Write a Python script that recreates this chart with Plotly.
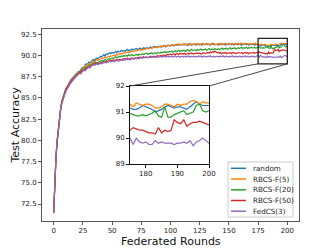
import plotly.graph_objects as go

# ---------------- data ----------------
random_acc = [
    71.5, 75.4, 78.2, 80.0, 81.6, 82.9, 83.9, 84.6, 85.1, 85.5,
    85.9, 86.2, 86.5, 86.6, 86.9, 87.2, 87.3, 87.5, 87.6, 87.8,
    87.9, 88.1, 88.0, 88.3, 88.5, 88.6, 88.5, 88.9, 89.0, 88.9,
    89.2, 89.1, 89.3, 89.4, 89.5, 89.4, 89.6, 89.7, 89.6, 89.8,
    89.9, 89.8, 90.0, 90.1, 89.9, 90.15, 90.1, 90.2, 90.3, 90.2,
    90.35, 90.25, 90.4, 90.45, 90.3, 90.5, 90.4, 90.45, 90.6, 90.5,
    90.55, 90.45, 90.6, 90.7, 90.55, 90.65, 90.6, 90.75, 90.65, 90.7,
    90.7, 90.8, 90.65, 90.75, 90.85, 90.7, 90.8, 90.9, 90.8, 90.85,
    90.9, 90.8, 90.95, 91.0, 90.85, 90.95, 91.05, 91.0, 90.9, 91.05,
    91.0, 91.1, 90.95, 91.05, 91.15, 91.1, 91.0, 91.15, 91.2, 91.1,
    91.2, 91.15, 91.25, 91.1, 91.2, 91.3, 91.15, 91.25, 91.2, 91.3,
    91.2, 91.25, 91.35, 91.2, 91.3, 91.15, 91.25, 91.35, 91.2, 91.3,
    91.25, 91.35, 91.2, 91.3, 91.4, 91.25, 91.3, 91.2, 91.35, 91.25,
    91.3, 91.4, 91.25, 91.3, 91.2, 91.35, 91.3, 91.4, 91.25, 91.3,
    91.35, 91.2, 91.3, 91.4, 91.25, 91.3, 91.35, 91.2, 91.3, 91.25,
    91.4, 91.3, 91.25, 91.35, 91.2, 91.3, 91.4, 91.3, 91.25, 91.35,
    91.3, 91.2, 91.35, 91.3, 91.4, 91.25, 91.3, 91.2, 91.35, 91.3,
    91.25, 91.35, 91.2, 91.3, 91.25,
    91.15, 91.1, 91.1, 91.15, 91.25, 91.2, 91.15, 91.1, 91.0, 91.05,
    91.1, 91.2, 91.25, 91.2, 91.15, 91.2, 91.2, 91.15, 91.1, 91.2,
    91.3, 91.4, 91.3, 91.25, 91.25, 91.25,
]

rbcs5_acc = [
    71.5, 75.3, 78.1, 80.0, 81.5, 82.8, 83.8, 84.6, 85.1, 85.5,
    85.8, 86.2, 86.4, 86.7, 86.9, 87.1, 87.3, 87.4, 87.6, 87.7,
    87.9, 88.0, 88.1, 88.2, 88.4, 88.5, 88.6, 88.8, 88.7, 88.9,
    89.0, 88.9, 89.1, 89.2, 89.3, 89.2, 89.4, 89.5, 89.4, 89.5,
    89.6, 89.7, 89.6, 89.75, 89.8, 89.7, 89.85, 89.9, 89.8, 89.95,
    89.9, 90.0, 90.05, 89.95, 90.1, 90.05, 90.2, 90.15, 90.25, 90.2,
    90.3, 90.25, 90.35, 90.4, 90.3, 90.45, 90.4, 90.5, 90.45, 90.55,
    90.55, 90.5, 90.6, 90.65, 90.6, 90.7, 90.65, 90.75, 90.7, 90.8,
    90.8, 90.75, 90.85, 90.9, 90.8, 90.95, 90.9, 90.95, 91.0, 90.9,
    91.05, 91.0, 91.1, 91.05, 91.0, 91.15, 91.1, 91.05, 91.2, 91.15,
    91.1, 91.25, 91.2, 91.15, 91.3, 91.2, 91.25, 91.35, 91.2, 91.3,
    91.25, 91.35, 91.3, 91.2, 91.35, 91.3, 91.4, 91.25, 91.3, 91.35,
    91.3, 91.25, 91.4, 91.3, 91.35, 91.2, 91.35, 91.4, 91.3, 91.25,
    91.35, 91.3, 91.4, 91.25, 91.35, 91.3, 91.45, 91.3, 91.35, 91.25,
    91.3, 91.4, 91.35, 91.25, 91.4, 91.3, 91.35, 91.45, 91.3, 91.35,
    91.3, 91.25, 91.4, 91.35, 91.3, 91.4, 91.25, 91.35, 91.4, 91.3,
    91.35, 91.45, 91.3, 91.35, 91.25, 91.4, 91.35, 91.3, 91.4, 91.35,
    91.3, 91.4, 91.35, 91.45, 91.3,
    91.3, 91.2, 91.35, 91.3, 91.25, 91.3, 91.3, 91.25, 91.15, 91.15,
    91.2, 91.3, 91.3, 91.25, 91.2, 91.3, 91.25, 91.3, 91.3, 91.4,
    91.45, 91.4, 91.3, 91.4, 91.35, 91.35,
]

rbcs20_acc = [
    71.5, 75.3, 78.1, 79.9, 81.5, 82.8, 83.7, 84.5, 85.0, 85.4,
    85.8, 86.1, 86.3, 86.6, 86.8, 87.0, 87.2, 87.3, 87.5, 87.6,
    87.8, 87.9, 88.0, 88.1, 88.3, 88.2, 88.5, 88.6, 88.5, 88.7,
    88.8, 88.9, 88.8, 89.0, 89.1, 89.0, 89.2, 89.1, 89.2, 89.3,
    89.3, 89.4, 89.3, 89.45, 89.5, 89.4, 89.55, 89.6, 89.5, 89.65,
    89.7, 89.6, 89.75, 89.85, 89.7, 89.8, 89.9, 89.8, 89.95, 89.85,
    89.95, 89.9, 90.0, 89.9, 90.05, 89.95, 90.0, 90.1, 89.95, 90.05,
    90.05, 90.1, 90.0, 90.15, 90.05, 90.1, 90.2, 90.1, 90.15, 90.25,
    90.2, 90.1, 90.25, 90.2, 90.3, 90.15, 90.25, 90.3, 90.2, 90.35,
    90.3, 90.25, 90.4, 90.3, 90.35, 90.45, 90.3, 90.4, 90.35, 90.45,
    90.4, 90.5, 90.4, 90.45, 90.55, 90.4, 90.5, 90.6, 90.45, 90.55,
    90.5, 90.6, 90.55, 90.45, 90.6, 90.65, 90.5, 90.6, 90.7, 90.55,
    90.6, 90.65, 90.55, 90.7, 90.6, 90.65, 90.75, 90.6, 90.7, 90.65,
    90.75, 90.6, 90.7, 90.8, 90.65, 90.7, 90.75, 90.65, 90.8, 90.7,
    90.7, 90.8, 90.65, 90.75, 90.85, 90.7, 90.8, 90.75, 90.85, 90.7,
    90.8, 90.9, 90.75, 90.85, 90.8, 90.9, 90.75, 90.85, 90.9, 90.8,
    90.85, 90.95, 90.8, 90.9, 90.85, 90.95, 90.8, 90.9, 90.85, 90.95,
    90.9, 90.85, 90.95, 90.85, 90.9,
    90.95, 90.9, 90.85, 90.85, 90.9, 90.85, 90.9, 90.95, 91.05, 90.85,
    90.8, 91.2, 90.8, 90.8, 90.9, 90.95, 91.0, 91.05, 90.9, 90.95,
    91.0, 91.25, 91.3, 91.05, 91.0, 91.05,
]

rbcs50_acc = [
    71.4, 75.3, 78.1, 79.9, 81.5, 82.7, 83.7, 84.5, 85.0, 85.4,
    85.8, 86.1, 86.3, 86.6, 86.8, 87.0, 87.2, 87.3, 87.4, 87.6,
    87.7, 87.8, 88.0, 88.0, 88.2, 88.3, 88.2, 88.4, 88.5, 88.6,
    88.7, 88.6, 88.8, 88.9, 89.0, 88.9, 89.0, 89.1, 89.0, 89.1,
    89.1, 89.2, 89.1, 89.25, 89.2, 89.3, 89.25, 89.35, 89.3, 89.4,
    89.35, 89.45, 89.4, 89.45, 89.5, 89.4, 89.55, 89.5, 89.45, 89.55,
    89.55, 89.6, 89.5, 89.65, 89.6, 89.55, 89.65, 89.7, 89.6, 89.65,
    89.7, 89.65, 89.75, 89.7, 89.8, 89.7, 89.75, 89.85, 89.75, 89.8,
    89.8, 89.75, 89.85, 89.9, 89.8, 89.85, 89.9, 89.8, 89.9, 89.95,
    89.9, 89.95, 90.0, 89.9, 90.05, 90.0, 89.95, 90.1, 90.05, 90.1,
    90.15, 90.05, 90.1, 90.2, 90.1, 90.15, 90.2, 90.1, 90.25, 90.15,
    90.2, 90.15, 90.25, 90.1, 90.2, 90.25, 90.15, 90.2, 90.3, 90.2,
    90.15, 90.25, 90.2, 90.3, 90.2, 90.25, 90.15, 90.2, 90.3, 90.25,
    90.2, 90.3, 90.35, 90.25, 90.4, 90.3, 90.45, 90.35, 90.5, 90.4,
    90.3, 90.35, 90.25, 90.3, 90.2, 90.3, 90.25, 90.35, 90.2, 90.3,
    90.25, 90.3, 90.2, 90.35, 90.25, 90.3, 90.2, 90.25, 90.35, 90.3,
    90.25, 90.3, 90.2, 90.3, 90.35, 90.25, 90.3, 90.2, 90.3, 90.25,
    90.3, 90.35, 90.25, 90.3, 90.35,
    90.3, 90.4, 90.35, 90.3, 90.3, 90.25, 90.2, 90.2, 90.15, 90.4,
    90.2, 90.3, 90.25, 90.3, 90.7, 90.6, 90.55, 90.7, 90.45, 90.55,
    90.6, 90.6, 90.65, 90.6, 90.55, 90.5,
]

fedcs3_acc = [
    71.5, 75.2, 78.0, 79.8, 81.4, 82.6, 83.6, 84.3, 84.8, 85.2,
    85.6, 85.9, 86.2, 86.4, 86.6, 86.8, 87.0, 87.1, 87.3, 87.5,
    87.6, 87.7, 87.9, 87.8, 88.0, 88.1, 88.3, 88.2, 88.4, 88.5,
    88.6, 88.5, 88.7, 88.8, 88.9, 88.8, 88.9, 89.0, 88.9, 89.0,
    89.1, 89.0, 89.15, 89.1, 89.2, 89.1, 89.25, 89.2, 89.3, 89.25,
    89.3, 89.35, 89.25, 89.4, 89.35, 89.45, 89.3, 89.4, 89.5, 89.4,
    89.5, 89.45, 89.55, 89.5, 89.6, 89.45, 89.55, 89.6, 89.65, 89.55,
    89.65, 89.6, 89.7, 89.6, 89.7, 89.75, 89.65, 89.75, 89.7, 89.8,
    89.75, 89.7, 89.8, 89.75, 89.85, 89.75, 89.8, 89.85, 89.75, 89.8,
    89.85, 89.8, 89.9, 89.8, 89.85, 89.9, 89.8, 89.85, 89.9, 89.8,
    89.85, 89.9, 89.8, 89.85, 89.95, 89.8, 89.85, 89.9, 89.8, 89.85,
    89.9, 89.8, 89.85, 89.9, 89.8, 89.95, 89.85, 89.8, 89.9, 89.85,
    89.8, 89.9, 89.85, 89.8, 89.95, 89.85, 89.9, 89.8, 89.85, 89.9,
    89.85, 89.8, 89.9, 89.85, 89.95, 89.8, 89.85, 89.9, 89.8, 89.85,
    89.9, 89.85, 89.8, 89.9, 89.85, 89.95, 89.8, 89.85, 89.9, 89.85,
    89.8, 89.9, 89.85, 89.95, 89.8, 89.85, 89.9, 89.8, 89.85, 89.9,
    89.85, 89.8, 89.9, 89.85, 89.95, 89.8, 89.9, 89.85, 89.8, 89.9,
    89.85, 89.9, 89.8, 89.85, 89.9,
    90.0, 89.75, 90.0, 89.85, 89.8, 89.85, 89.75, 89.75, 89.9, 89.8,
    89.85, 89.8, 89.8, 89.8, 89.75, 89.8, 89.8, 89.85, 89.8, 89.9,
    89.7, 89.85, 89.9, 90.0, 89.9, 89.8,
]

series_names = ["random", "RBCS-F(5)", "RBCS-F(20)", "RBCS-F(50)", "FedCS(3)"]
series_values = [random_acc, rbcs5_acc, rbcs20_acc, rbcs50_acc, fedcs3_acc]
series_colors = ["#1f77b4", "#ff7f0e", "#2ca02c", "#d62728", "#9467bd"]

rounds = list(range(201))
for v in series_values:
    assert len(v) == len(rounds), len(v)

main_xticks = [0, 25, 50, 75, 100, 125, 150, 175, 200]
main_yticks = [72.5, 75.0, 77.5, 80.0, 82.5, 85.0, 87.5, 90.0, 92.5]
inset_xticks = [180, 190, 200]
inset_yticks = [89, 90, 91, 92]
zoom_x = [175, 200]
zoom_y = [89, 92]

# ---------------- layout geometry (page pixels; page body has 8px margin) ----------------
OFF = 8
W, H = 332 - OFF, 249 - OFF
L, R, T, B = 42 - OFF, 33, 29 - OFF, 28
PW, PH = W - L - R, H - T - B
XR = [-10, 210]
YR = [70.5, 93.1]


def px(xp):
    return (xp - OFF - L) / PW


def py(yp):
    return (H - B - (yp - OFF)) / PH


ins_x = [px(130), px(209)]
ins_y = [py(164), py(86)]

FONT = "DejaVu Sans"
fig = go.Figure()

for name, vals, col in zip(series_names, series_values, series_colors):
    fig.add_trace(go.Scatter(x=rounds, y=vals, mode="lines", name=name,
                             line=dict(color=col, width=1.2),
                             xaxis="x", yaxis="y", showlegend=False))
for name, vals, col in zip(series_names, series_values, series_colors):
    fig.add_trace(go.Scatter(x=rounds, y=vals, mode="lines", name=name,
                             line=dict(color=col, width=1.2),
                             xaxis="x2", yaxis="y2", showlegend=False))

axis_common = dict(showgrid=False, zeroline=False, showline=True, mirror=True,
                   ticks="outside", ticklen=3, tickwidth=1,
                   tickfont=dict(family=FONT, size=7, color="#222"))

fig.update_layout(
    width=W, height=H,
    margin=dict(l=L, r=R, t=T, b=B),
    paper_bgcolor="white", plot_bgcolor="white",
    font=dict(family=FONT),
    xaxis=dict(domain=[0, 1], range=XR, tickvals=main_xticks,
               linecolor="#555", tickcolor="#555", **axis_common),
    yaxis=dict(domain=[0, 1], range=YR, tickvals=main_yticks,
               ticktext=[f"{v:.1f}" for v in main_yticks],
               linecolor="#555", tickcolor="#555", **axis_common),
    xaxis2=dict(domain=ins_x, range=[175, 200], tickvals=inset_xticks,
                anchor="y2", linecolor="#111", tickcolor="#111", **axis_common),
    yaxis2=dict(domain=ins_y, range=[89, 92], tickvals=inset_yticks,
                anchor="x2", linecolor="#111", tickcolor="#111", **axis_common),
)

shapes = []
shapes.append(dict(type="rect", xref="paper", yref="paper",
                   x0=ins_x[0], x1=ins_x[1], y0=ins_y[0], y1=ins_y[1],
                   fillcolor="white", line=dict(width=0), layer="below"))
shapes.append(dict(type="rect", xref="x", yref="y",
                   x0=zoom_x[0], x1=zoom_x[1], y0=zoom_y[0], y1=zoom_y[1],
                   line=dict(color="#222", width=1.3)))


def dx(v):
    return (v - XR[0]) / (XR[1] - XR[0])


def dy(v):
    return (v - YR[0]) / (YR[1] - YR[0])


shapes.append(dict(type="line", xref="paper", yref="paper",
                   x0=dx(zoom_x[0]), y0=dy(zoom_y[0]), x1=ins_x[0], y1=ins_y[1],
                   line=dict(color="#333", width=0.9)))
shapes.append(dict(type="line", xref="paper", yref="paper",
                   x0=dx(zoom_x[1]), y0=dy(zoom_y[0]), x1=ins_x[1], y1=ins_y[1],
                   line=dict(color="#333", width=0.9)))

shapes.append(dict(type="rect", xref="paper", yref="paper",
                   x0=px(228), x1=px(293), y0=py(217), y1=py(162),
                   fillcolor="rgba(255,255,255,0.8)",
                   line=dict(color="#cccccc", width=1)))

annotations = []
leg_y = [168.3, 179.0, 189.8, 200.5, 211.2]
for name, col, yp in zip(series_names, series_colors, leg_y):
    shapes.append(dict(type="line", xref="paper", yref="paper",
                       x0=px(231), x1=px(246), y0=py(yp), y1=py(yp),
                       line=dict(color=col, width=1.5)))
    annotations.append(dict(text=name, xref="paper", yref="paper",
                            x=px(251), y=py(yp), xanchor="left", yanchor="middle",
                            showarrow=False,
                            font=dict(family=FONT, size=7.2, color="#222")))

annotations.append(dict(text="Federated Rounds", xref="paper", yref="paper",
                        x=px(170.5), y=py(241), xanchor="center", yanchor="middle",
                        showarrow=False, borderpad=0,
                        font=dict(family=FONT, size=11, color="#111")))
annotations.append(dict(text="Test Accuracy", xref="paper", yref="paper",
                        x=px(15), y=py(125.5), xanchor="center", yanchor="middle",
                        textangle=-90, showarrow=False, borderpad=0,
                        font=dict(family=FONT, size=11, color="#111")))

fig.update_layout(shapes=shapes, annotations=annotations)

fig.write_html("out.html")
